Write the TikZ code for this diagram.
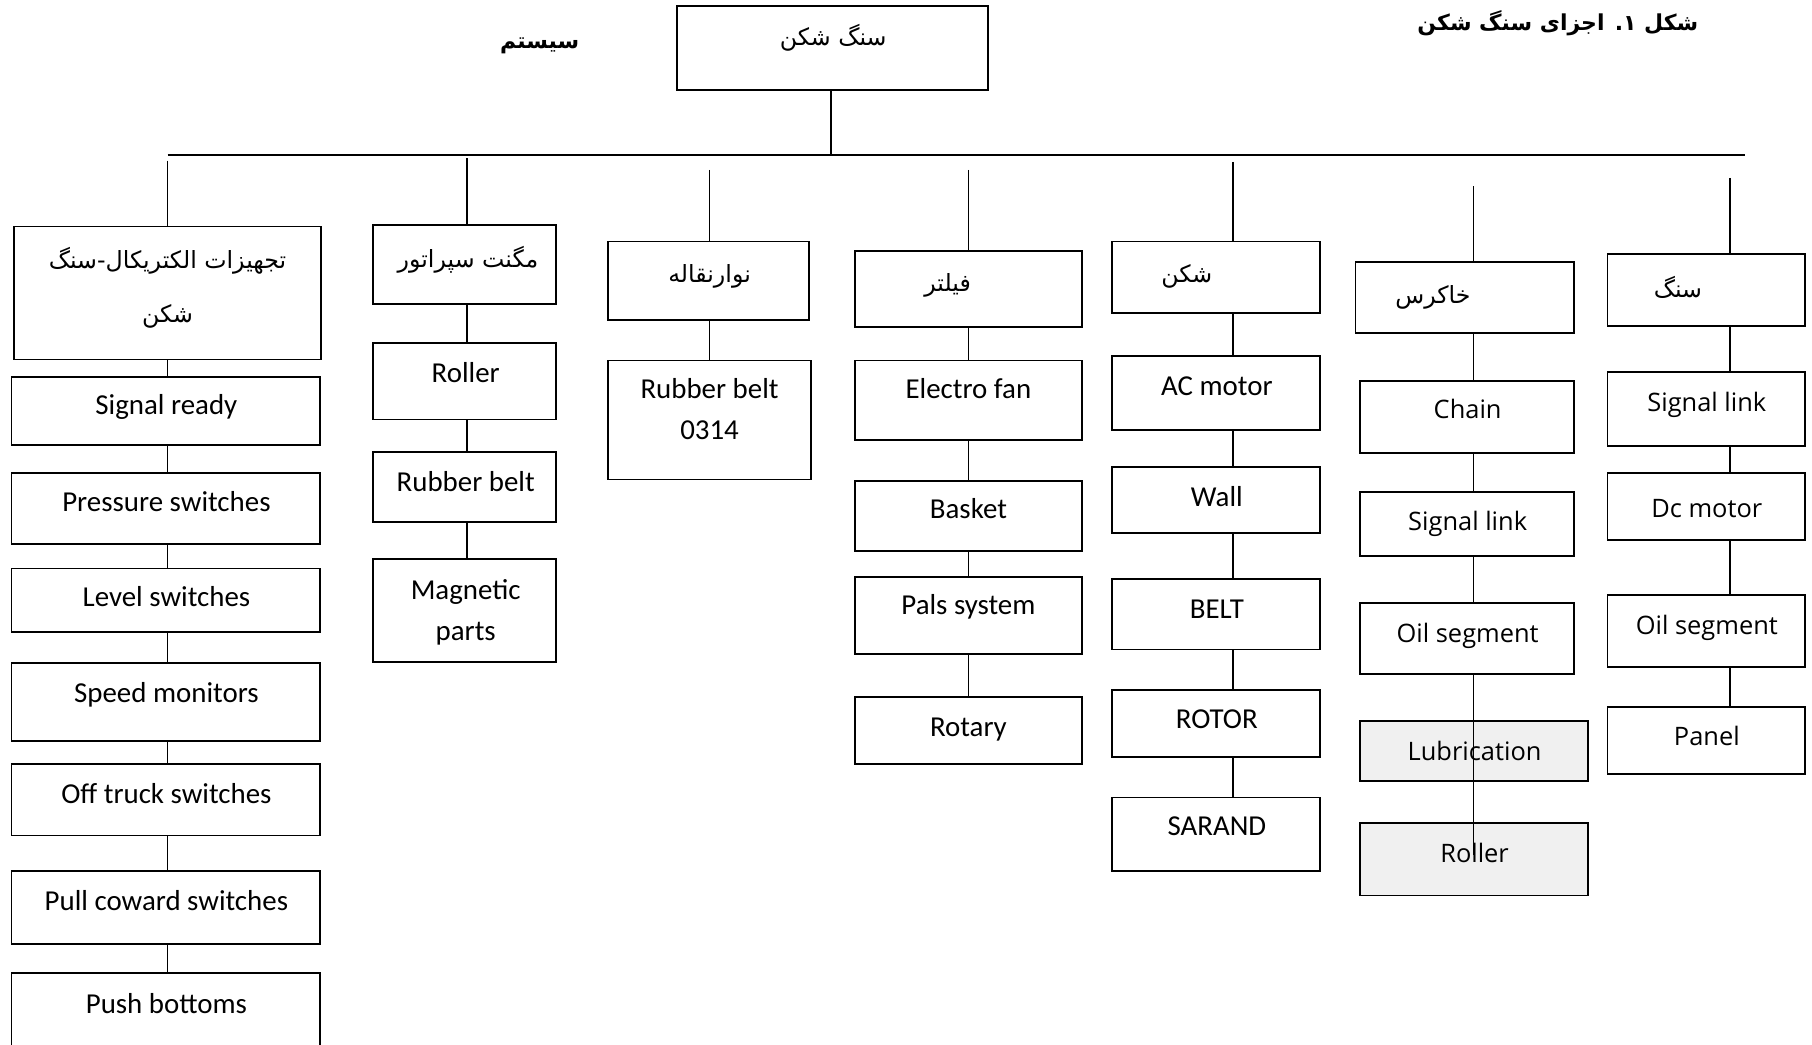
\documentclass[tikz,border=0pt]{standalone}
\usepackage{fontspec}
\setmainfont{Carlito}
\newfontfamily\opensansfam{Open Sans}
\newfontfamily\fafont[Script=Arabic]{DejaVu Sans}
\TeXXeTstate=1
\usetikzlibrary{fit,calc}
\tikzset{
  box/.style={draw=black, line width=1.5pt, inner sep=0pt},
  graybox/.style={box, fill=black!6},
  conn/.style={line width=1.2pt},
  lat/.style={font=\fontsize{25}{35}\selectfont, inner sep=0pt, anchor=base},
  latm/.style={font=\fontsize{25}{35}\selectfont, inner sep=0pt, align=center},
  osf/.style={font=\opensansfam\fontsize{22}{28}\selectfont, inner sep=0pt, anchor=base},
  per/.style={font=\fafont\fontsize{20.5}{46}\selectfont, inner sep=0pt, align=center},
  perb/.style={font=\fafont\bfseries\fontsize{19}{24}\selectfont, inner sep=0pt},
}
\begin{document}
\begin{tikzpicture}[x=1pt,y=-1pt]
\useasboundingbox[fill=white] (0,0) rectangle (1568,904);

% title and root
\node[perb] (title) at (1348,20) {\beginR شکل ۱. اجزای سنگ شکن\endR};
\node[perb] (sys) at (467,40) {\beginR سیستم\endR};
\node[box, fit={(586,5) (855,78)}] (root) {};
\node[per] (rootT) at (721,33) {\beginR سنگ شکن\endR};

\coordinate (hl) at (145,134);
\coordinate (hr) at (1510,134);
\draw[line width=1.5pt] (hl) -- (hr);
\draw[conn] (root.south -| 719,0) -- (hl -| 719,0);

% drop coordinates
\coordinate (d1) at (145,139);
\coordinate (d2) at (404,137);
\coordinate (d3) at (614,147);
\coordinate (d4) at (838,147);
\coordinate (d5) at (1067,140);
\coordinate (d6) at (1275,161);
\coordinate (d7) at (1497,154);

% ---------- column 1
\node[box, fit={(12,196) (278,311)}] (c1h) {};
\node[per] (c1hT) at (145,249) {\beginR تجهیزات الکتریکال-سنگ\endR\\\beginR شکن\endR};
\node[box, fit={(10,326) (277,385)}] (c1a) {};
\node[lat] (c1aT) at (144,359) {Signal ready};
\node[box, fit={(10,409) (277,471)}] (c1b) {};
\node[lat] (c1bT) at (144,443) {Pressure switches};
\node[box, fit={(10,492) (277,547)}] (c1c) {};
\node[lat] (c1cT) at (144,525) {Level switches};
\node[box, fit={(10,574) (277,641)}] (c1d) {};
\node[lat] (c1dT) at (144,608) {Speed monitors};
\node[box, fit={(10,661) (277,723)}] (c1e) {};
\node[lat] (c1eT) at (144,695) {Off truck switches};
\node[box, fit={(10,754) (277,817)}] (c1f) {};
\node[lat] (c1fT) at (144,788) {Pull coward switches};
\node[box, fit={(10,842) (277,905)}] (c1g) {};
\node[lat] (c1gT) at (144,877) {Push bottoms};
\draw[conn] (d1) -- (d1 |- c1h.north);
\foreach \a/\b in {c1h/c1a,c1a/c1b,c1b/c1c,c1c/c1d,c1d/c1e,c1e/c1f,c1f/c1g}
  \draw[conn] (\a.south -| d1) -- (\b.north -| d1);

% ---------- column 2
\node[box, fit={(323,195) (481,263)}] (c2h) {};
\node[per] (c2hT) at (405,225) {\beginR مگنت سپراتور\endR};
\node[box, fit={(323,297) (481,363)}] (c2a) {};
\node[lat] (c2aT) at (403,331) {Roller};
\node[box, fit={(323,391) (481,452)}] (c2b) {};
\node[lat] (c2bT) at (403,425) {Rubber belt};
\node[box, fit={(323,484) (481,573)}] (c2c) {};
\node[latm] (c2cT) at (403,530) {Magnetic\\parts};
\draw[conn] (d2) -- (d2 |- c2h.north);
\foreach \a/\b in {c2h/c2a,c2a/c2b,c2b/c2c}
  \draw[conn] (\a.south -| d2) -- (\b.north -| d2);

% ---------- column 3
\node[box, fit={(526,209) (700,277)}] (c3h) {};
\node[per] (c3hT) at (614,239) {\beginR نوارنقاله\endR};
\node[box, fit={(526,312) (702,415)}] (c3a) {};
\node[latm] (c3aT) at (614,354) {Rubber belt\\0314};
\draw[conn] (d3) -- (d3 |- c3h.north);
\draw[conn] (c3h.south -| d3) -- (c3a.north -| d3);

% ---------- column 4
\node[box, fit={(740,217) (936,283)}] (c4h) {};
\node[per] (c4hT) at (820,247) {\beginR فیلتر\endR};
\node[box, fit={(740,312) (936,381)}] (c4a) {};
\node[lat] (c4aT) at (838,345) {Electro fan};
\node[box, fit={(740,416) (936,477)}] (c4b) {};
\node[lat] (c4bT) at (838,449) {Basket};
\node[box, fit={(740,499) (936,566)}] (c4c) {};
\node[lat] (c4cT) at (838,532) {Pals system};
\node[box, fit={(740,603) (936,661)}] (c4d) {};
\node[lat] (c4dT) at (838,637) {Rotary};
\draw[conn] (d4) -- (d4 |- c4h.north);
\foreach \a/\b in {c4h/c4a,c4a/c4b,c4b/c4c,c4c/c4d}
  \draw[conn] (\a.south -| d4) -- (\b.north -| d4);

% ---------- column 5
\node[box, fit={(962,209) (1142,271)}] (c5h) {};
\node[per] (c5hT) at (1027,239) {\beginR شکن\endR};
\node[box, fit={(962,308) (1142,372)}] (c5a) {};
\node[lat] (c5aT) at (1053,342) {AC motor};
\node[box, fit={(962,404) (1142,461)}] (c5b) {};
\node[lat] (c5bT) at (1053,438) {Wall};
\node[box, fit={(962,501) (1142,562)}] (c5c) {};
\node[lat] (c5cT) at (1053,535) {BELT};
\node[box, fit={(962,597) (1142,655)}] (c5d) {};
\node[lat] (c5dT) at (1053,630) {ROTOR};
\node[box, fit={(962,690) (1142,754)}] (c5e) {};
\node[lat] (c5eT) at (1053,723) {SARAND};
\draw[conn] (d5) -- (d5 |- c5h.north);
\foreach \a/\b in {c5h/c5a,c5a/c5b,c5b/c5c,c5c/c5d,c5d/c5e}
  \draw[conn] (\a.south -| d5) -- (\b.north -| d5);

% ---------- column 6
\node[box, fit={(1173,227) (1362,288)}] (c6h) {};
\node[per] (c6hT) at (1240,257) {\beginR خاکرس\endR};
\node[box, fit={(1177,330) (1362,392)}] (c6a) {};
\node[osf] (c6aT) at (1270,362) {Chain};
\node[box, fit={(1177,426) (1362,481)}] (c6b) {};
\node[osf] (c6bT) at (1270,459) {Signal link};
\node[box, fit={(1177,522) (1362,583)}] (c6c) {};
\node[osf] (c6cT) at (1270,556) {Oil segment};
\node[graybox, fit={(1177,624) (1374,676)}] (c6d) {};
\node[osf] (c6dT) at (1276,658) {Lubrication};
\node[graybox, fit={(1177,712) (1374,775)}] (c6e) {};
\node[osf] (c6eT) at (1276,746) {Roller};
\coordinate (c6end) at (1275,740);
\draw[conn] (d6) -- (d6 |- c6h.north);
\foreach \a/\b in {c6h/c6a,c6a/c6b,c6b/c6c}
  \draw[conn] (\a.south -| d6) -- (\b.north -| d6);
\draw[conn] (c6c.south -| d6) -- (c6end);

% ---------- column 7
\node[box, fit={(1391,220) (1562,282)}] (c7h) {};
\node[per] (c7hT) at (1452,249) {\beginR سنگ\endR};
\node[box, fit={(1391,322) (1562,386)}] (c7a) {};
\node[osf] (c7aT) at (1477,356) {Signal link};
\node[box, fit={(1391,409) (1562,467)}] (c7b) {};
\node[osf] (c7bT) at (1477,448) {Dc motor};
\node[box, fit={(1391,515) (1562,577)}] (c7c) {};
\node[osf] (c7cT) at (1477,549) {Oil segment};
\node[box, fit={(1391,612) (1562,670)}] (c7d) {};
\node[osf] (c7dT) at (1477,645) {Panel};
\draw[conn] (d7) -- (d7 |- c7h.north);
\foreach \a/\b in {c7h/c7a,c7a/c7b,c7b/c7c,c7c/c7d}
  \draw[conn] (\a.south -| d7) -- (\b.north -| d7);
\end{tikzpicture}
\end{document}
